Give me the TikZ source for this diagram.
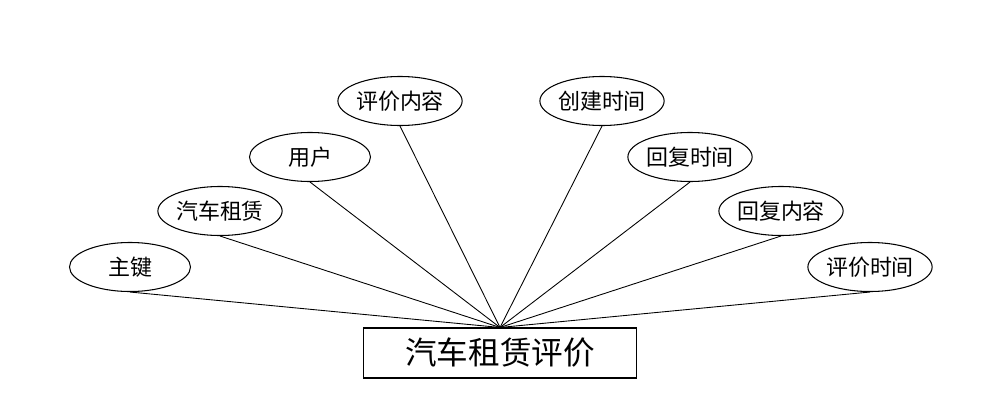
\documentclass[tikz,border=0pt]{standalone}
\usepackage{fontspec}
\setmainfont{Noto Sans CJK SC}
\usepackage{tikz}
\usetikzlibrary{positioning, shapes.geometric}

\begin{document}
\begin{tikzpicture}[
    attr/.style={draw, ellipse, line width=0.6pt, minimum width=2.42cm,
                 minimum height=0.98cm, inner sep=0pt, font=\fontsize{12.5}{14}\selectfont},
    entity/.style={draw, rectangle, line width=0.6pt, minimum width=5.46cm,
                   minimum height=1.0cm, inner sep=0pt, font=\fontsize{18}{21}\selectfont},
    link/.style={line width=0.5pt}
  ]
    \useasboundingbox (0,0) rectangle (20,8.16);

    \node[entity] (rent) at (10,1.1) {汽车租赁评价};

    \node[attr] (key)     at (2.6,2.82)   {主键};
    \node[attr] (car)     at (4.4,3.94)   {汽车租赁};
    \node[attr] (user)    at (6.2,5.02)   {用户};
    \node[attr] (content) at (8.0,6.14)   {评价内容};
    \node[attr] (created) at (12.04,6.14) {创建时间};
    \node[attr] (rtime)   at (13.8,5.02)  {回复时间};
    \node[attr] (reply)   at (15.62,3.94) {回复内容};
    \node[attr] (rated)   at (17.4,2.82)  {评价时间};

    \foreach \a in {key, car, user, content, created, rtime, reply, rated}
      \draw[link] (\a.south) -- (rent.north);
\end{tikzpicture}
\end{document}
